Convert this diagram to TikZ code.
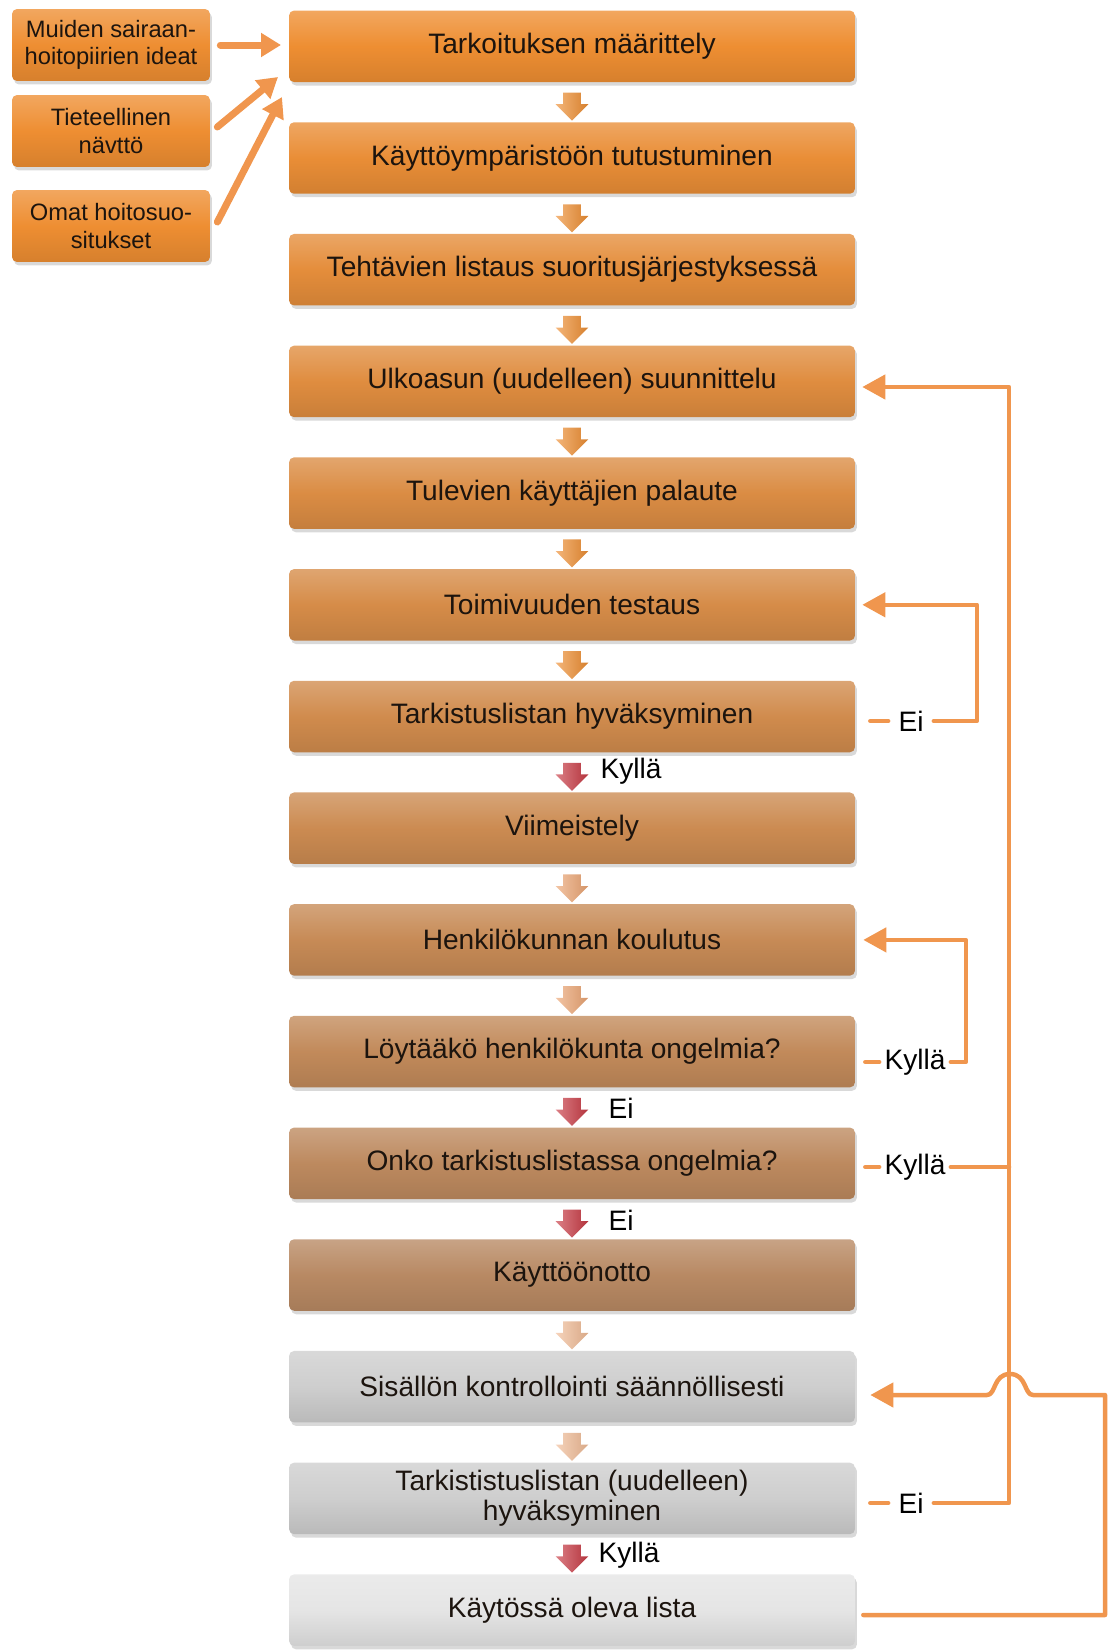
\documentclass[tikz,border=0pt]{standalone}
\usepackage{fontspec}
\setmainfont{Liberation Sans}
\usetikzlibrary{arrows.meta,shapes.arrows,shadows}

\definecolor{boxA}{RGB}{238,142,50}
\definecolor{boxB}{RGB}{184,137,99}
\definecolor{boxG}{RGB}{206,206,206}
\definecolor{boxL}{RGB}{229,229,229}
\definecolor{fbcol}{RGB}{240,150,78}
\definecolor{redar}{RGB}{200,58,68}
\definecolor{peach}{RGB}{236,165,115}
\definecolor{txt}{RGB}{28,20,14}

\begin{document}
\begin{tikzpicture}[x=0.02cm, y=-0.02cm, line cap=round, line join=round, font=\fontsize{16}{17}\selectfont, >={Triangle[length=0.46cm,width=0.48cm]}]
	\tikzset{mbox/.style={rounded corners=0.1cm, minimum width=11.32cm, minimum height=1.43cm, align=center, text=txt, top color=#1!78!white, bottom color=#1!90!black, middle color=#1, drop shadow={shadow xshift=0.04cm, shadow yshift=-0.07cm, opacity=0.3}},
		sbox/.style={mbox=boxA, minimum width=3.96cm, minimum height=1.44cm, font=\fontsize{13.5}{15.6}\selectfont},
		darr/.style={single arrow, shape border rotate=270, minimum height=0.56cm, inner sep=0.17cm, single arrow head extend=0.15cm, left color=#1!65!white, right color=#1!90!black},
		fb/.style={draw=fbcol, line width=0.09cm},
		la/.style={draw=fbcol, line width=0.14cm, -{Triangle[length=0.4cm,width=0.46cm]}},
		lbl/.style={inner sep=0.2cm, text=black}}
	\useasboundingbox (0,0) rectangle (1112,1650);
	% sources on the left
	\node[sbox] (s1) at (111,45) {Muiden sairaan-\\hoitopiirien ideat};
	\node[sbox] (s2) at (111,131) {Tieteellinen\\nävttö};
	\node[sbox] (s3) at (111,226) {Omat hoitosuo-\\situkset};
	% main steps
	\node[mbox=boxA] (m1) at (572,46.3) {Tarkoituksen määrittely};
	\node[mbox=boxA!91!boxB] (m2) at (572,158.0) {Käyttöympäristöön tutustuminen};
	\node[mbox=boxA!82!boxB] (m3) at (572,269.7) {Tehtävien listaus suoritusjärjestyksessä};
	\node[mbox=boxA!73!boxB] (m4) at (572,381.4) {Ulkoasun (uudelleen) suunnittelu};
	\node[mbox=boxA!64!boxB] (m5) at (572,493.1) {Tulevien käyttäjien palaute};
	\node[mbox=boxA!55!boxB] (m6) at (572,604.8) {Toimivuuden testaus};
	\node[mbox=boxA!45!boxB] (m7) at (572,716.5) {Tarkistuslistan hyväksyminen};
	\node[mbox=boxA!36!boxB] (m8) at (572,828.2) {Viimeistely};
	\node[mbox=boxA!27!boxB] (m9) at (572,939.9) {Henkilökunnan koulutus};
	\node[mbox=boxA!18!boxB] (m10) at (572,1051.6) {Löytääkö henkilökunta ongelmia?};
	\node[mbox=boxA!9!boxB] (m11) at (572,1163.3) {Onko tarkistuslistassa ongelmia?};
	\node[mbox=boxB] (m12) at (572,1275.0) {Käyttöönotto};
	\node[mbox=boxG] (m13) at (572,1386.7) {Sisällön kontrollointi säännöllisesti};
	\node[mbox=boxG] (m14) at (572,1498.4) {Tarkististuslistan (uudelleen)\\hyväksyminen};
	\node[mbox=boxL] (m15) at (572,1610.1) {Käytössä oleva lista};
	% small arrows between the steps
	\foreach \i/\c in {1/boxA,2/boxA,3/boxA,4/boxA,5/boxA,6/boxA,7/redar,8/peach,9/peach,10/redar,11/redar,12/peach!75!white,13/peach!75!white,14/redar}
		\node[darr=\c] (a\i) at (572,{111.7*\i-9.55}) {};
	\node[lbl] (t7) at (631,771) {Kyllä};
	\node[lbl] (t10) at (621,1108) {Ei};
	\node[lbl] (t11) at (621,1220) {Ei};
	\node[lbl] (t14) at (629,1555) {Kyllä};
	% inputs
	\coordinate (in1) at (281,45);
	\coordinate (in2) at (278,77);
	\coordinate (in3) at (282,97);
	\draw[la, shorten <=0.2cm] (s1.east) -- (in1);
	\draw[la] ([shift={(7,-4)}]s2.east) -- (in2);
	\draw[la] ([shift={(7,-4)}]s3.east) -- (in3);
	% feedback loops
	\node[lbl] (e1) at (911,721) {Ei};
	\node[lbl, inner sep=0.1cm] (k1) at (915,1062) {Kyllä};
	\node[lbl, inner sep=0.1cm] (k2) at (915,1167) {Kyllä};
	\node[lbl] (e2) at (911,1503) {Ei};
	\draw[fb, shorten <=0.3cm] (m7.east |- e1.west) -- (e1.west);
	\draw[fb, ->, shorten >=0.14cm] (e1.east) -- ++(43,0) |- (m6.east);
	\draw[fb, shorten <=0.2cm] (m10.east |- k1.west) -- (k1.west);
	\draw[fb, ->, shorten >=0.16cm] (k1.east) -- ++(15,0) |- (m9.east);
	\coordinate (busT) at (1009,387);
	\coordinate (busB) at (1009,1503);
	\draw[fb, shorten <=0.2cm] (m11.east |- k2.west) -- (k2.west);
	\draw[fb] (k2.east) -- (k2.east -| busT);
	\draw[fb, shorten <=0.3cm] (m14.east |- e2.west) -- (e2.west);
	\draw[fb, ->, shorten >=0.14cm] (e2.east) -- (busB) -- (busT) -- (busT -| m4.east);
	\coordinate (lpB) at (1105,1615);
	\coordinate (lpT) at (1105,1395);
	\draw[fb, ->, shorten <=0.16cm, shorten >=0.3cm] (m15.east |- lpB) -- (lpB) -- (lpT) -- (1033,1395)
		.. controls (1024,1395) and (1027,1374) .. (1010,1374)
		.. controls (993,1374) and (996,1395) .. (987,1395) -- (m13.east |- lpT);
\end{tikzpicture}
\end{document}
